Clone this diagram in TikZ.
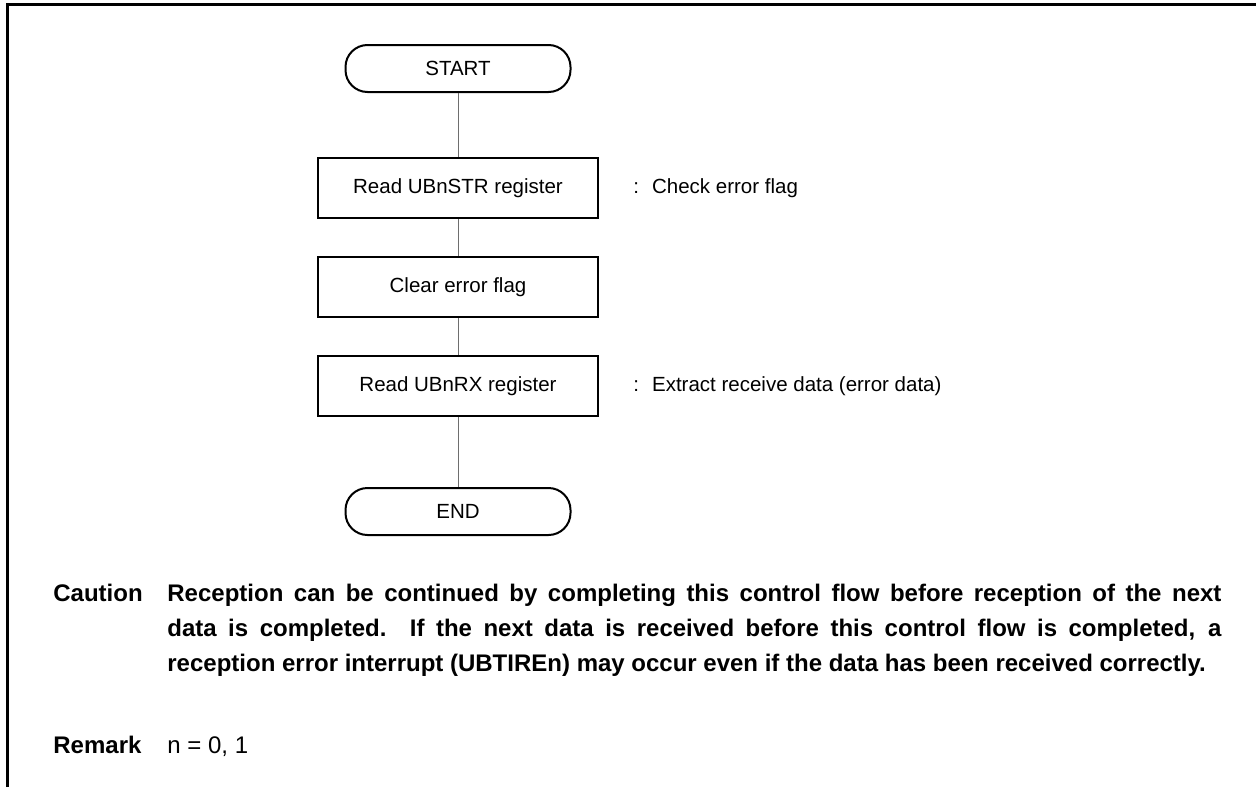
\documentclass[tikz,border=0pt]{standalone}
\usepackage{fontspec}
\setmainfont{Liberation Sans}
\usepackage{xcolor}
\definecolor{ink}{HTML}{000000}
\definecolor{wire}{HTML}{6E6E6E}
\usetikzlibrary{positioning}

\begin{document}
\begin{tikzpicture}[x=0.5pt,y=-0.5pt,
  font=\fontsize{10.25}{12}\selectfont,
  term/.style={draw=ink,line width=1pt,rounded corners=11pt,minimum width=112.5pt,
    minimum height=23.5pt,inner sep=0pt},
  proc/.style={draw=ink,line width=1pt,minimum width=140pt,minimum height=30pt,inner sep=0pt},
  note/.style={anchor=west,inner sep=0pt},
  link/.style={wire,line width=0.5pt},
  para/.style={font=\fontsize{12}{17.5}\selectfont\bfseries,inner sep=0pt,anchor=base west},
  plain/.style={font=\fontsize{12}{17.5}\selectfont,inner sep=0pt,anchor=base west}]
\useasboundingbox (0,0) rectangle (1256,787);
% open frame (top and left rules)
\draw[ink,line width=1.5pt] (7,787) -- (7,4) -- (1256,4);
% flow
\node[term] (start) at (458,68.5) {START};
\node[proc,below=32pt of start] (rdstr) {Read UBnSTR register};
\node[proc,below=18.5pt of rdstr] (clrflag) {Clear error flag};
\node[proc,below=18.5pt of clrflag] (rdrx) {Read UBnRX register};
\node[term,below=35pt of rdrx] (stop) {END};
\draw[link] (start) -- (rdstr);
\draw[link] (rdstr) -- (clrflag);
\draw[link] (clrflag) -- (rdrx);
\draw[link] (rdrx) -- (stop);
% side notes
\node[note,right=17pt of rdstr] (chknote) {:\hspace{6.5pt}Check error flag};
\node[note,right=17pt of rdrx] (rxnote) {:\hspace{6.5pt}Extract receive data (error data)};
% caution and remark
\node[para] (caution) at (53,601) {Caution};
\node[para,text width=527pt,align=justify] (cauttxt) at (167,601)
  {Reception can be continued by completing this control flow before reception of the next\linebreak
   data is completed.  If the next data is received before this control flow is completed, a\linebreak
   reception error interrupt (UBTIREn) may occur even if the data has been received correctly.};
\node[para] (remark) at (53,753) {Remark};
\node[plain] (remval) at (167,753) {n = 0, 1};
\end{tikzpicture}
\end{document}
